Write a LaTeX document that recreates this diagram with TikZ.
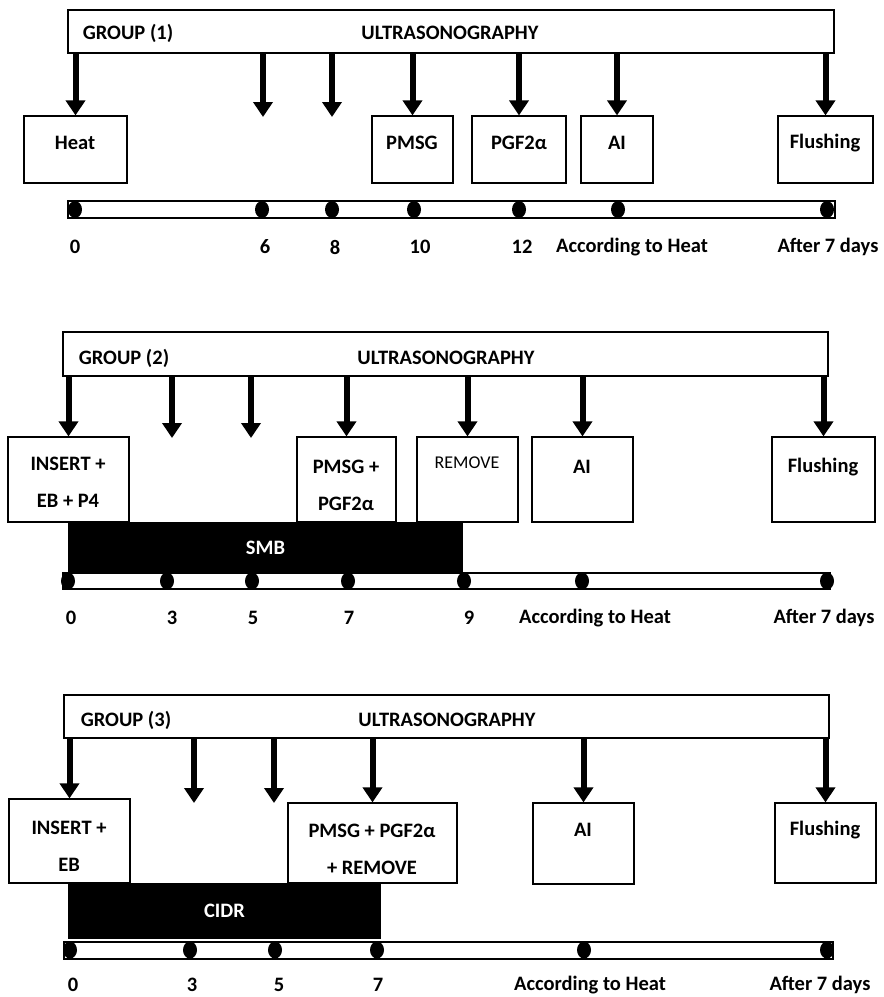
\documentclass[tikz,border=0pt]{standalone}
\usepackage{fontspec}
\setmainfont{Carlito}
\usetikzlibrary{arrows.meta}
\begin{document}
\begin{tikzpicture}[x=1pt,y=-1pt,
    every node/.style={font=\fontsize{20.5}{37}\selectfont\bfseries, inner sep=0pt, align=center},
    bar/.style={draw, line width=1.2pt},
    stepbox/.style={draw, line width=1.2pt},
    drug/.style={fill=black, text=white},
    usg/.style={line width=6pt, -{Triangle[width=19pt,length=15pt]}},
    small/.style={font=\fontsize{18}{22}\selectfont}]
    \useasboundingbox (0,0) rectangle (884,997);
    % group 1
    \node[bar, minimum width=766pt, minimum height=43pt] (U1) at (451,31.5) {};
    \node (G1) at (128,33) {GROUP (1)};
    \node (S1) at (450,33) {ULTRASONOGRAPHY};
    \node[stepbox, minimum width=103pt, minimum height=67pt] (heat1) at (75.5,149.5) {};
    \node[stepbox, minimum width=81pt, minimum height=67pt] (pmsg1) at (412.5,149.5) {};
    \node[stepbox, minimum width=94pt, minimum height=67pt] (pgf1) at (519,149.5) {};
    \node[stepbox, minimum width=72pt, minimum height=67pt] (ai1) at (617,149.5) {};
    \node[stepbox, minimum width=95pt, minimum height=67pt] (flush1) at (825.5,149.5) {};
    \node (heat1t) at (75,143) {Heat};
    \node (pmsg1t) at (412,143) {PMSG};
    \node (pgf1t) at (519,143) {PGF2α};
    \node (ai1t) at (617,143) {AI};
    \node (flush1t) at (825,143) {Flushing};
    \coordinate (d6) at (263,117);
    \coordinate (d8) at (332,117);
    \foreach \n in {heat1,pmsg1,pgf1,ai1,flush1}
    {\draw[usg] (U1.south -| \n) -- (\n.north);}
    \foreach \n in {d6,d8}
    {\draw[usg] (U1.south -| \n) -- (\n);}
    \draw[bar] (68,201) rectangle (835,218);
    \foreach \x in {75,262,332,414,519,618,827}
    {\fill (\x,209.5) ellipse [x radius=7pt, y radius=8.5pt];}
    \foreach \x/\t in {75/0,265/6,335/8,420/10,522/12,632/According to Heat,828/After 7 days}
    {\node (day1-\x) at (\x,247) {\t};}
    % group 2
    \node[bar, minimum width=765pt, minimum height=44pt] (U2) at (445.5,354) {};
    \node (G2) at (124,358) {GROUP (2)};
    \node (S2) at (446,358) {ULTRASONOGRAPHY};
    \node[stepbox, minimum width=121pt, minimum height=85pt] (ins2) at (68.5,479.5) {};
    \node[stepbox, minimum width=99pt, minimum height=85pt] (pmsg2) at (346.5,479.5) {};
    \node[stepbox, minimum width=101pt, minimum height=85pt] (rem2) at (467.5,479.5) {};
    \node[stepbox, minimum width=101pt, minimum height=85pt] (ai2) at (582.5,479.5) {};
    \node[stepbox, minimum width=103pt, minimum height=85pt] (flush2) at (823.5,479.5) {};
    \node (ins2t) at (68,482) {INSERT +\\EB + P4};
    \node (pmsg2t) at (346,485) {PMSG +\\PGF2α};
    \node[small] (rem2t) at (467,463) {REMOVE};
    \node (ai2t) at (582,467) {AI};
    \node (flush2t) at (823,467) {Flushing};
    \coordinate (d3) at (172,438);
    \coordinate (d5) at (251,438);
    \foreach \n in {ins2,pmsg2,rem2,ai2,flush2}
    {\draw[usg] (U2.south -| \n) -- (\n.north);}
    \foreach \n in {d3,d5}
    {\draw[usg] (U2.south -| \n) -- (\n);}
    \node[drug, minimum width=395pt, minimum height=51pt] (smb) at (265.5,547.5) {SMB};
    \draw[bar] (63,573) rectangle (830,589);
    \foreach \x in {68,167,252,348,464,582,827}
    {\fill (\x,581) ellipse [x radius=7pt, y radius=8.5pt];}
    \foreach \x/\t in {71/0,172/3,253/5,349/7,469/9,595/According to Heat,824/After 7 days}
    {\node (day2-\x) at (\x,618) {\t};}
    % group 3
    \node[bar, minimum width=765pt, minimum height=43pt] (U3) at (446.5,716.5) {};
    \node (G3) at (126,720) {GROUP (3)};
    \node (S3) at (447,720) {ULTRASONOGRAPHY};
    \node[stepbox, minimum width=121pt, minimum height=84pt] (ins3) at (69.5,841) {};
    \node[stepbox, minimum width=169pt, minimum height=80pt] (pmsg3) at (372.5,843) {};
    \node[stepbox, minimum width=101pt, minimum height=81pt] (ai3) at (583.5,843.5) {};
    \node[stepbox, minimum width=101pt, minimum height=80pt] (flush3) at (825.5,843) {};
    \node (ins3t) at (69,846) {INSERT +\\EB};
    \node (pmsg3t) at (372,849) {PMSG + PGF2α\\+ REMOVE};
    \node (ai3t) at (583,830) {AI};
    \node (flush3t) at (825,830) {Flushing};
    \coordinate (e3) at (194,803);
    \coordinate (e5) at (274,803);
    \foreach \n in {ins3,pmsg3,ai3,flush3}
    {\draw[usg] (U3.south -| \n) -- (\n.north);}
    \foreach \n in {e3,e5}
    {\draw[usg] (U3.south -| \n) -- (\n);}
    \node[drug, minimum width=313pt, minimum height=56pt] (cidr) at (224.5,911) {CIDR};
    \draw[bar] (64,942) rectangle (833,959);
    \foreach \x in {70,190,275,377,584,827}
    {\fill (\x,950) ellipse [x radius=7pt, y radius=8.5pt];}
    \foreach \x/\t in {73/0,192/3,279/5,378/7,590/According to Heat,820/After 7 days}
    {\node (day3-\x) at (\x,985) {\t};}
\end{tikzpicture}
\end{document}
